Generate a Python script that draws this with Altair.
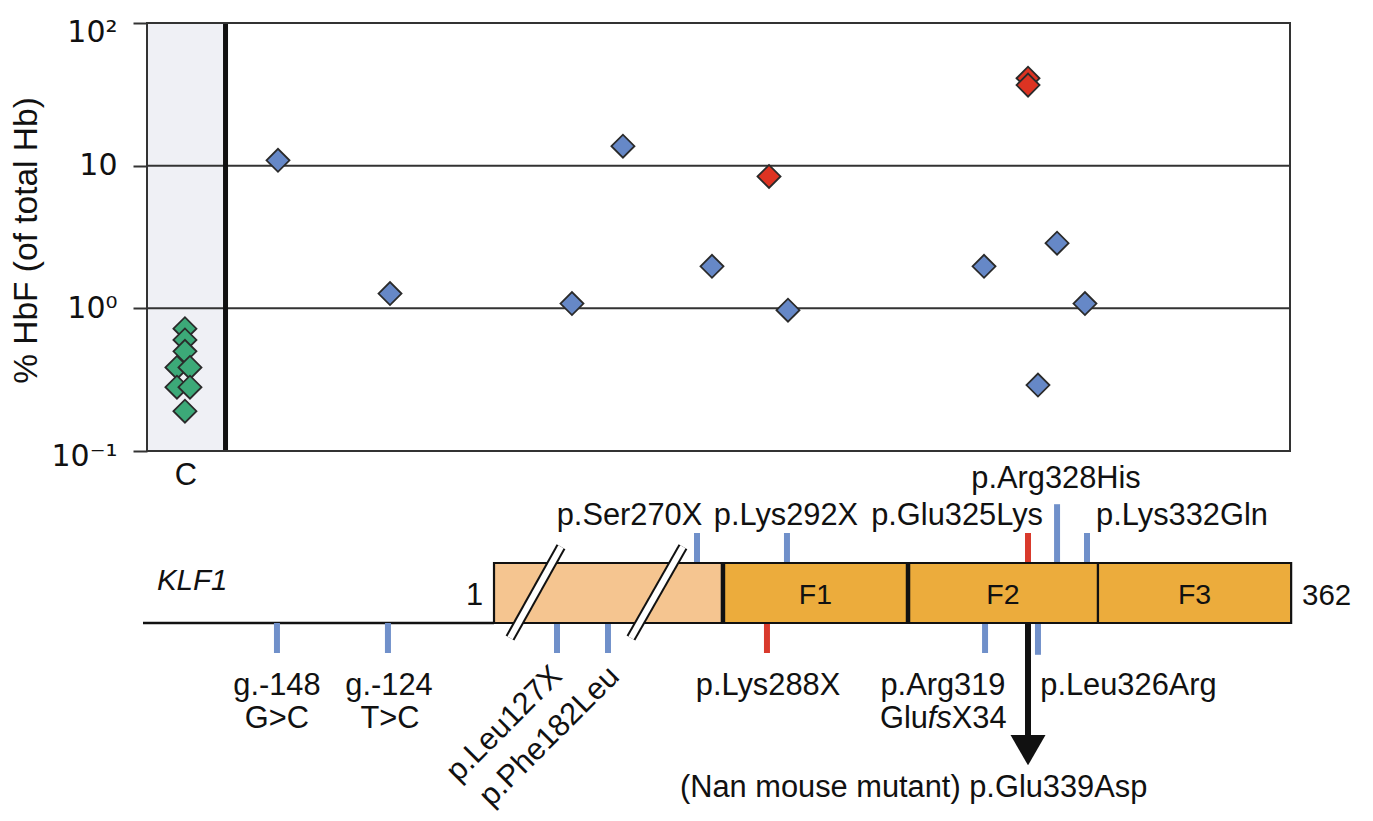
import altair as alt
import pandas as pd

FONT = "Liberation Sans"
INK = "#111111"
LABEL_FS = 30.8

# ---------------- top panel: % HbF ----------------
# control samples (column "C")
ctrl_pos = [3.32, 3.32, 3.32, 2.62, 3.76, 2.62, 3.76, 3.32]
ctrl_hbf = [0.72, 0.60, 0.50, 0.385, 0.385, 0.28, 0.28, 0.19]

# carriers of KLF1 variants (x = schematic position along the gene)
pat_pos = [11.46, 21.26, 37.18, 41.64, 49.43, 54.42, 56.08, 73.23, 77.08, 77.08, 77.95, 79.62, 82.06]
pat_hbf = [10.9, 1.27, 1.08, 13.7, 1.97, 8.4, 0.97, 1.97, 41.0, 36.7, 0.29, 2.86, 1.08]
pat_kind = ["blue", "blue", "blue", "blue", "blue", "red", "blue", "blue", "red", "red", "blue", "blue", "blue"]

ctrl_edge = 6.87          # right edge of control column
y_ticks = [0.1, 1, 10, 100]
grid_vals = [1, 10]

# ---------------- bottom panel: KLF1 gene ----------------
line_start, line_end = -0.35, 30.36
dom_name = ["TAD", "F1", "F2", "F3"]
dom_start = [30.36, 50.39, 66.58, 83.20]
dom_end = [50.39, 66.58, 83.20, 100.1]
thick_sep = [50.39, 66.58]

mut_name = ["g.-148", "g.-124", "p.Leu127X", "p.Phe182Leu", "p.Ser270X", "p.Lys288X",
            "p.Lys292X", "p.Arg319", "p.Glu325Lys", "p.Leu326Arg", "p.Arg328His", "p.Lys332Gln"]
mut_pos = [11.37, 21.08, 35.87, 40.33, 48.12, 54.24, 55.99, 73.32, 77.08, 77.95, 79.62, 82.24]
mut_side = ["below", "below", "below", "below", "above", "below", "above", "below", "above", "below", "above", "above"]
mut_kind = ["blue", "blue", "blue", "blue", "blue", "red", "blue", "blue", "red", "blue", "blue", "blue"]
mut_tip = [-0.5, -0.5, -0.5, -0.5, 1.5, -0.5, 1.5, -0.5, 1.5, -0.53, 1.98, 1.5]

slash_xa = [31.76, 42.34]
slash_xb = [36.22, 46.89]
slash_ya = [-0.25, -0.25]
slash_yb = [1.27, 1.27]

up_text = ["p.Ser270X", "p.Lys292X", "p.Glu325Lys", "p.Arg328His", "p.Lys332Gln"]
up_x = [42.21, 55.90, 70.87, 79.53, 90.55]
up_y = [1.633, 1.633, 1.633, 2.25, 1.633]

low_text = ["g.-148", "G>C", "g.-124", "T>C", "p.Lys288X", "p.Arg319", "p.Leu326Arg"]
low_x = [11.37, 11.37, 21.17, 21.26, 54.33, 69.64, 85.87]
low_y = [-1.2, -1.75, -1.2, -1.75, -1.2, -1.2, -1.2]

rot_text = ["p.Leu127X", "p.Phe182Leu"]
rot_x = [36.45, 41.45]
rot_y = [-0.91, -0.92]

fs_plain_text = ["Glu", "X34"]
fs_plain_x = [64.13, 70.41]
fs_ital_text = ["fs"]
fs_ital_x = [68.31]
fs_y = -1.75

arrow_x = 77.08
arrow_shaft_end = -1.88
arrow_head_y = -2.12
nan_text = "(Nan mouse mutant) p.Glu339Asp"
nan_x, nan_y = 46.63, -2.9

# ---------------- scales ----------------
W, H = 1143, 428
XS = alt.Scale(domain=[0, 100], nice=False, zero=False)
YT = alt.Scale(type="log", domain=[0.1, 100], nice=False)
YD = alt.Scale(domain=[-3, 3], range=[780, 420], nice=False, zero=False)

YAX = alt.Axis(
    values=y_ticks,
    labelExpr="datum.value > 50 ? '10\u00b2' : datum.value > 5 ? '10' : datum.value > 0.5 ? '10\u2070' : '10\u207b\u00b9'",
    labelFont="DejaVu Sans", labelFontSize=30, labelColor=INK, labelPadding=16,
    labelOffset={"condition": [{"test": "datum.value > 50", "value": 9},
                               {"test": "datum.value < 0.5", "value": 5}], "value": 0},
    tickSize=14, tickWidth=2, tickColor="#333333", domain=False, grid=False,
    title="% HbF (of total Hb)", titleFont=FONT, titleFontSize=33.5, titleFontWeight="normal",
    titleColor=INK, titleX=-121, titleY=217, titleAngle=270, titleBaseline="middle", titleAlign="center",
)


def xq(f):
    return alt.X(f"{f}:Q", scale=XS, axis=None)


def yt(f):
    return alt.Y(f"{f}:Q", scale=YT, axis=YAX)


def yd(f):
    return alt.Y(f"{f}:Q", scale=YD, axis=None)


# ---------------- top layers ----------------
panel = pd.DataFrame({"x0": [0], "x1": [100], "c1": [ctrl_edge], "ylo": [y_ticks[0]], "yhi": [y_ticks[-1]]})
band = alt.Chart(panel).mark_rect(fill="#EFF0F5").encode(x=xq("x0"), x2="c1", y=yt("ylo"), y2="yhi")
grid_df = pd.DataFrame({"v": grid_vals, "x0": 0, "x1": 100})
grid = alt.Chart(grid_df).mark_rule(color="#333333", strokeWidth=2).encode(x=xq("x0"), x2="x1", y=yt("v"))
sep = alt.Chart(panel).mark_rule(color=INK, strokeWidth=5).encode(x=xq("c1"), y=yt("ylo"), y2="yhi")
border = alt.Chart(panel).mark_rect(fillOpacity=0, stroke="#333333", strokeWidth=2).encode(
    x=xq("x0"), x2="x1", y=yt("ylo"), y2="yhi")

pts = pd.DataFrame({
    "pos": ctrl_pos + pat_pos,
    "hbf": ctrl_hbf + pat_hbf,
    "kind": ["control"] * len(ctrl_pos) + pat_kind,
})
diamonds = alt.Chart(pts).mark_point(
    shape="diamond", filled=True, size=530, stroke="#2A2A2A", strokeWidth=1.8, opacity=1, fillOpacity=1
).encode(
    x=xq("pos"), y=yt("hbf"),
    color=alt.Color("kind:N", scale=alt.Scale(domain=["control", "blue", "red"],
                                              range=["#3CA978", "#6688C7", "#DD3322"]), legend=None),
)
top = alt.layer(band, grid, sep, border, diamonds)

# ---------------- diagram layers ----------------
base_df = pd.DataFrame({"x0": [line_start], "x1": [line_end], "y": [0]})
baseline = alt.Chart(base_df).mark_rule(color=INK, strokeWidth=2.5).encode(x=xq("x0"), x2="x1", y=yd("y"))

dom = pd.DataFrame({"name": dom_name, "s": dom_start, "e": dom_end, "lo": 0, "hi": 1})
box_tad = alt.Chart(dom).transform_filter("datum.name == 'TAD'").mark_rect(
    fill="#F5C590", stroke=INK, strokeWidth=2.2).encode(x=xq("s"), x2="e", y=yd("lo"), y2="hi")
box_zf = alt.Chart(dom).transform_filter("datum.name != 'TAD'").mark_rect(
    fill="#ECAC3C", stroke=INK, strokeWidth=2.2).encode(x=xq("s"), x2="e", y=yd("lo"), y2="hi")
sep_df = pd.DataFrame({"x": thick_sep, "lo": 0, "hi": 1})
seps = alt.Chart(sep_df).mark_rule(color=INK, strokeWidth=4.5).encode(x=xq("x"), y=yd("lo"), y2="hi")

sl = pd.DataFrame({"xa": slash_xa, "xb": slash_xb, "ya": slash_ya, "yb": slash_yb})
slash_k = alt.Chart(sl).mark_rule(color=INK, strokeWidth=10).encode(x=xq("xa"), x2="xb", y=yd("ya"), y2="yb")
slash_w = alt.Chart(sl).mark_rule(color="white", strokeWidth=6).encode(x=xq("xa"), x2="xb", y=yd("ya"), y2="yb")

mut = pd.DataFrame({"name": mut_name, "pos": mut_pos, "side": mut_side, "kind": mut_kind, "tip": mut_tip})
mut_base = alt.Chart(mut).transform_calculate(b="datum.side == 'above' ? 1 : 0")
ticks_blue = mut_base.transform_filter("datum.kind == 'blue'").mark_rule(
    color="#7090CA", strokeWidth=6).encode(x=xq("pos"), y=yd("b"), y2="tip")
ticks_red = mut_base.transform_filter("datum.kind == 'red'").mark_rule(
    color="#D93A2C", strokeWidth=6).encode(x=xq("pos"), y=yd("b"), y2="tip")

arr = pd.DataFrame({"x": [arrow_x], "y0": [0], "y1": [arrow_shaft_end], "yh": [arrow_head_y]})
shaft = alt.Chart(arr).mark_rule(color=INK, strokeWidth=6).encode(x=xq("x"), y=yd("y0"), y2="y1")
head = alt.Chart(arr).mark_point(shape="triangle-down", filled=True, size=1225, color=INK, opacity=1).encode(
    x=xq("x"), y=yd("yh"))


def texts(df, **kw):
    props = dict(font=FONT, fontSize=LABEL_FS, baseline="alphabetic", color=INK)
    props.update(kw)
    return alt.Chart(df).mark_text(**props).encode(x=xq("x"), y=yd("y"), text="t:N")


t_up = texts(pd.DataFrame({"t": up_text, "x": up_x, "y": up_y}), align="center")
t_low = texts(pd.DataFrame({"t": low_text, "x": low_x, "y": low_y}), align="center")
t_rot = texts(pd.DataFrame({"t": rot_text, "x": rot_x, "y": rot_y}), align="right", angle=315)
t_fs1 = texts(pd.DataFrame({"t": fs_plain_text, "x": fs_plain_x, "y": fs_y}), align="left")
t_fs2 = texts(pd.DataFrame({"t": fs_ital_text, "x": fs_ital_x, "y": fs_y}), align="left", fontStyle="italic")
t_nan = texts(pd.DataFrame({"t": [nan_text], "x": [nan_x], "y": [nan_y]}), align="left")
t_klf = texts(pd.DataFrame({"t": ["KLF1"], "x": [0.87], "y": [0.55]}), align="left", fontStyle="italic", fontSize=29.5)
t_one = texts(pd.DataFrame({"t": ["1"], "x": [29.4], "y": [0.3]}), align="right")
t_end = texts(pd.DataFrame({"t": ["362"], "x": [101.05], "y": [0.3]}), align="left", fontSize=29.5)
t_c = texts(pd.DataFrame({"t": ["C"], "x": [3.41], "y": [2.3]}), align="center")
t_f = alt.Chart(dom).transform_filter("datum.name != 'TAD'").transform_calculate(
    mid="(datum.s + datum.e) / 2", yy="0.32").mark_text(
    font=FONT, fontSize=28.5, baseline="alphabetic", align="center", color=INK).encode(
    x=xq("mid"), y=yd("yy"), text="name:N")

diagram = alt.layer(baseline, ticks_blue, ticks_red, box_tad, box_zf, seps, slash_k, slash_w,
                    shaft, head, t_up, t_low, t_rot, t_fs1, t_fs2, t_nan, t_klf, t_one, t_end, t_c, t_f)

chart = alt.layer(top, diagram).resolve_scale(y="independent").properties(
    width=W, height=H,
    padding={"left": 139, "top": 15, "right": 75, "bottom": 362},
    autosize=alt.AutoSizeParams(type="none"),
    background="white",
).configure_view(strokeWidth=0)

chart.save("out.html", embed_options={"renderer": "svg", "actions": False})
